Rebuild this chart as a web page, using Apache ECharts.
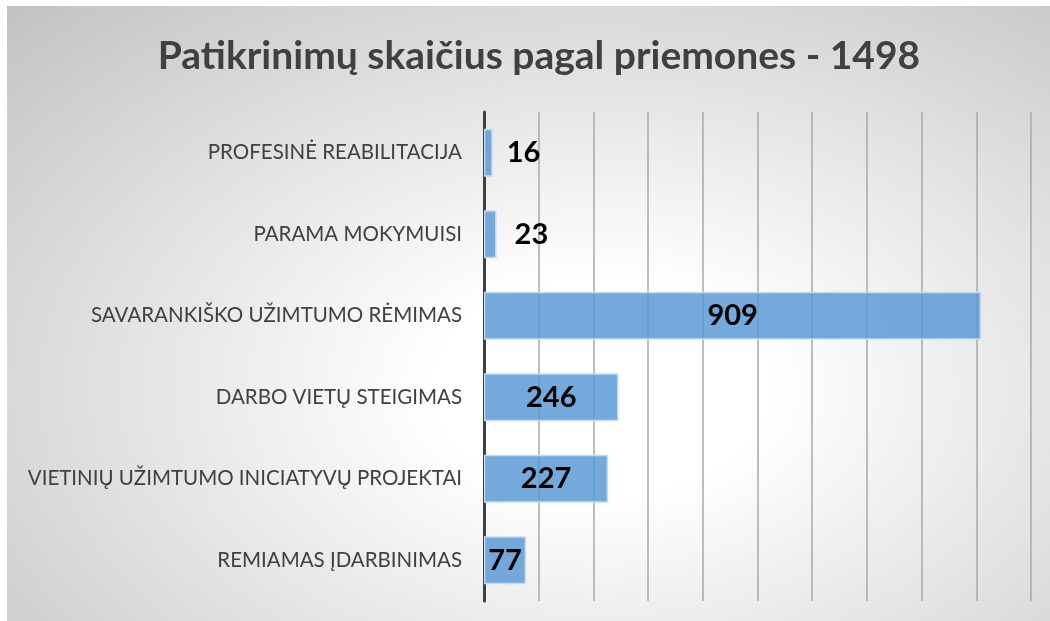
<!DOCTYPE html>
<html>
<head>
<meta charset="utf-8">
<script src="https://cdn.jsdelivr.net/npm/echarts@6/dist/echarts.min.js"></script>
<style>
	html, body { margin: 0; padding: 0; background: #ffffff; }
	#chart_wrap {
		position: absolute; left: 7px; top: 6px; width: 1043px; height: 615px;
		background: radial-gradient(ellipse at 57% 62%, #ffffff 0%, #ffffff 20%, #c2c2c2 100%);
	}
	#chart_priemones { width: 1043px; height: 615px; }
</style>
</head>
<body>
<div id="chart_wrap"><div id="chart_priemones"></div></div>
<script>
	// kategorijos ir reikšmės
	var categories = ['PROFESINĖ REABILITACIJA', 'PARAMA MOKYMUISI', 'SAVARANKIŠKO UŽIMTUMO RĖMIMAS',
		'DARBO VIETŲ STEIGIMAS', 'VIETINIŲ UŽIMTUMO INICIATYVŲ PROJEKTAI', 'REMIAMAS ĮDARBINIMAS'];
	var values = [16, 23, 909, 246, 227, 77];
	var title_text = 'Patikrinimų skaičius pagal priemones - 1498';

	var chart = echarts.init(document.getElementById('chart_priemones'));

	// mažos reikšmės - etiketė už stulpelio
	var bar_data = values.map(function(v, i) {
		var item = { value: v };
		if (v < 50) {
			item.label = { position: 'right', distance: v < 20 ? 14 : 18 };
		}
		return item;
	});

	var option = {
		backgroundColor: 'transparent',
		title: {
			text: title_text,
			left: 527, top: 26, textAlign: 'center',
			textStyle: { fontFamily: 'Lato', fontWeight: 'bold', fontSize: 39, color: '#404040' }
		},
		grid: { left: 477, right: 19, top: 106, bottom: 20 },
		xAxis: {
			type: 'value', min: 0, max: 1000, interval: 100,
			axisLabel: { show: false },
			axisLine: { show: false },
			axisTick: { show: false },
			splitLine: { show: true, lineStyle: { color: '#a9a9a9', width: 1.5 } }
		},
		yAxis: {
			type: 'category', inverse: true,
			data: categories,
			axisTick: { show: false },
			axisLine: { show: true, lineStyle: { color: '#404040', width: 3 } },
			axisLabel: { margin: 22, fontFamily: 'Lato', fontSize: 20.5, color: '#404040' }
		},
		series: [{
			type: 'bar',
			data: bar_data,
			barWidth: 48,
			itemStyle: { color: 'rgba(91,155,213,0.85)', borderColor: '#c5dcf0', borderWidth: 1.5 },
			label: {
				show: true, position: 'inside',
				fontFamily: 'Lato', fontWeight: 'bold', fontSize: 29, color: '#000000'
			}
		}]
	};
	chart.setOption(option);
</script>
</body>
</html>
